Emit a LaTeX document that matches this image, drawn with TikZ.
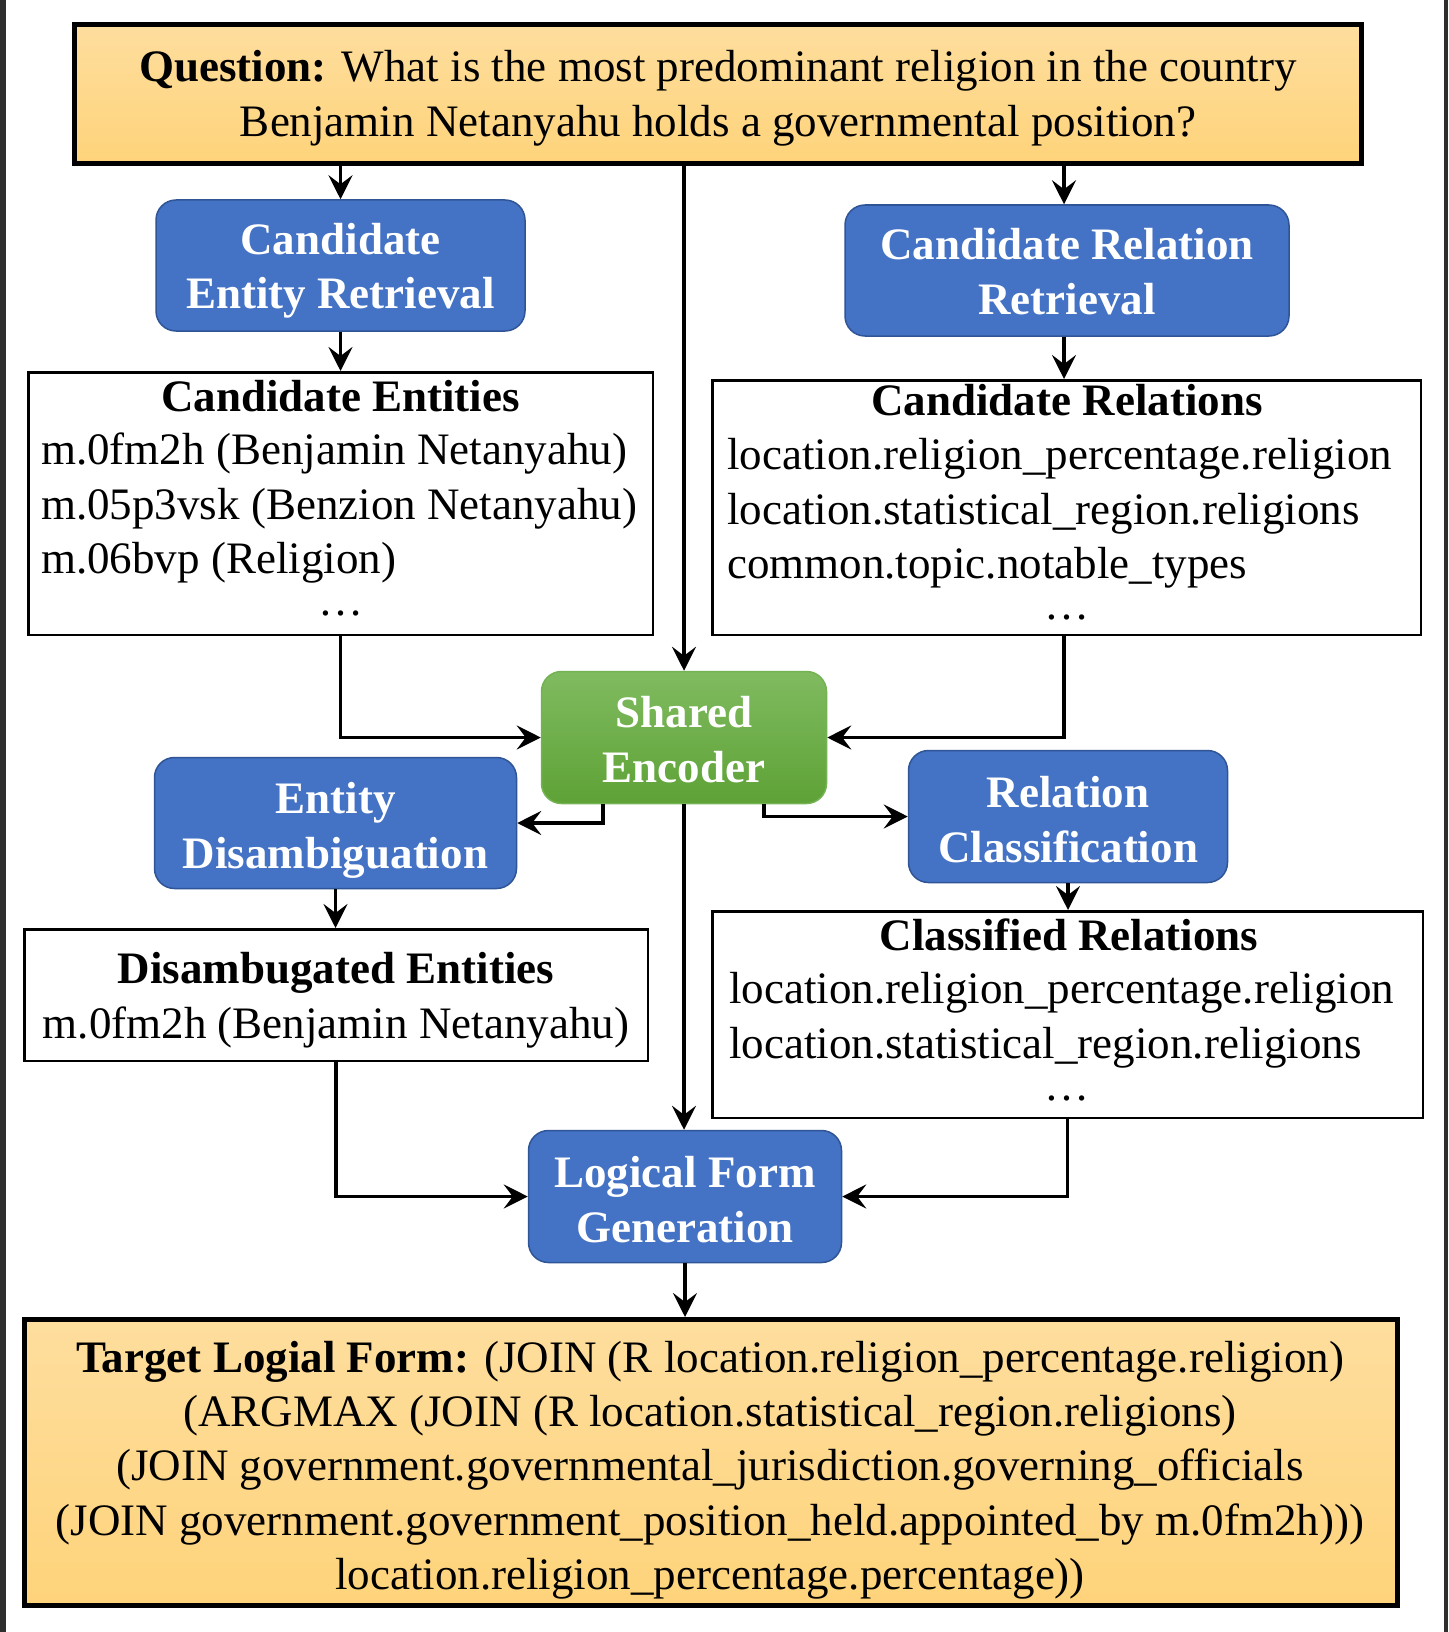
\documentclass[tikz,border=0pt]{standalone}
\usepackage{fontspec}
\setmainfont{Liberation Serif}
\usetikzlibrary{arrows.meta}

\definecolor{qtop}{RGB}{254,222,158}
\definecolor{qbot}{RGB}{254,211,122}
\definecolor{bluefill}{RGB}{68,114,196}
\definecolor{blueedge}{RGB}{47,85,151}
\definecolor{greentop}{RGB}{128,187,96}
\definecolor{greenbot}{RGB}{94,162,54}
\definecolor{greenedge}{RGB}{116,178,84}
\definecolor{sidebar}{RGB}{46,46,46}

\begin{document}
\begin{tikzpicture}[x=1pt,y=-1pt,
  txt/.style={font=\fontsize{45pt}{55pt}\selectfont, inner sep=0pt, anchor=base},
  hd/.style={txt, font=\fontsize{45pt}{55pt}\selectfont\bfseries},
  lbl/.style={hd, text=white},
  item/.style={txt, anchor=base west},
  stage/.style={draw=blueedge, line width=1.5pt, fill=bluefill, rounded corners=20pt, inner sep=0pt},
  enc/.style={draw=greenedge, line width=1.5pt, top color=greentop, bottom color=greenbot, rounded corners=20pt, inner sep=0pt},
  listbox/.style={draw=black, line width=2.5pt, fill=white, inner sep=0pt},
  hlbox/.style={draw=black, line width=5pt, top color=qtop, bottom color=qbot, inner sep=0pt},
  flow/.style={line width=3.2pt, -{Stealth[length=24pt,width=24pt,inset=9pt]}}
]
\useasboundingbox (0,0) rectangle (1448,1632);
\fill[white] (0,0) rectangle (1448,1632);
% dark page edges
\fill[sidebar] (0,0) rectangle (6,1632);
\fill[sidebar] (1444,0) rectangle (1448,1632);

% boxes
\node[hlbox, minimum width=1287pt, minimum height=139pt] (q) at (718,94) {};
\node[stage, minimum width=369pt, minimum height=131pt] (cer) at (340.5,265.5) {};
\node[stage, minimum width=444pt, minimum height=131pt] (crr) at (1067,270.5) {};
\node[listbox, minimum width=624.5pt, minimum height=262.5pt] (ce) at (340.5,503.5) {};
\node[listbox, minimum width=708.5pt, minimum height=254.5pt] (cr) at (1066.5,507.5) {};
\node[enc, minimum width=285pt, minimum height=132pt] (se) at (684,737.5) {};
\node[stage, minimum width=362pt, minimum height=131pt] (ed) at (335.5,823) {};
\node[stage, minimum width=319pt, minimum height=132pt] (rc) at (1068,816.5) {};
\node[listbox, minimum width=623.5pt, minimum height=131.5pt] (de) at (336,995) {};
\node[listbox, minimum width=710.5pt, minimum height=206.5pt] (clr) at (1067.5,1014.5) {};
\node[stage, minimum width=313pt, minimum height=132pt] (lfg) at (685,1196.5) {};
\node[hlbox, minimum width=1373pt, minimum height=286pt] (tgt) at (711,1462.5) {};

% connectors
\draw[flow] (q.south -| cer.north) -- (cer.north);
\draw[flow] (q.south -| crr.north) ++(-3,0) -- ([xshift=-3pt]crr.north);
\draw[flow] (q.south -| se.north) -- (se.north);
\draw[flow] (cer.south) -- (cer.south |- ce.north);
\draw[flow] ([xshift=-3pt]crr.south) -- ([xshift=-3pt]crr.south |- cr.north);
\draw[flow] (ce.south) |- (se.west);
\draw[flow] ([xshift=-3pt]cr.south -| crr.south) |- (se.east);
\draw[flow] ([xshift=-81pt]se.south) |- (ed.east);
\draw[flow] ([xshift=80pt]se.south) |- (rc.west);
\draw[flow] (se.south) -- (se.south |- lfg.north);
\draw[flow] (ed.south) -- (ed.south |- de.north);
\draw[flow] (rc.south) -- (rc.south |- clr.north);
\draw[flow] (de.south) |- (lfg.west);
\draw[flow] (clr.south) |- (lfg.east);
\draw[flow] (lfg.south) -- (lfg.south |- tgt.north);

% question
\node[txt] (q1) at (718,82) {\textbf{Question:} What is the most predominant religion in the country};
\node[txt] (q2) at (718,137) {Benjamin Netanyahu holds a governmental position?};

% processing stages
\node[lbl] (cer1) at (340.5,254) {Candidate};
\node[lbl] (cer2) at (340.5,308) {Entity Retrieval};
\node[lbl] (crr1) at (1067,259) {Candidate Relation};
\node[lbl] (crr2) at (1067,314) {Retrieval};
\node[lbl] (se1) at (684,727) {Shared};
\node[lbl] (se2) at (684,782) {Encoder};
\node[lbl] (ed1) at (335.5,813) {Entity};
\node[lbl] (ed2) at (335.5,868) {Disambiguation};
\node[lbl] (rc1) at (1068,807) {Relation};
\node[lbl] (rc2) at (1068,862) {Classification};
\node[lbl] (lfg1) at (685,1187) {Logical Form};
\node[lbl] (lfg2) at (685,1242) {Generation};

% candidate entities
\node[hd] (ceh) at (340.5,411) {Candidate Entities};
\node[item] (ce1) at (41,464) {m.0fm2h (Benjamin Netanyahu)};
\node[item] (ce2) at (41,519) {m.05p3vsk (Benzion Netanyahu)};
\node[item] (ce3) at (41,573) {m.06bvp (Religion)};
\node[txt] (ce4) at (340.5,615) {\ldots};

% candidate relations
\node[hd] (crh) at (1067,415) {Candidate Relations};
\node[item] (cr1) at (727,469) {location.religion\_percentage.religion};
\node[item] (cr2) at (727,524) {location.statistical\_region.religions};
\node[item] (cr3) at (727,578) {common.topic.notable\_types};
\node[txt] (cr4) at (1067,619) {\ldots};

% disambiguated entities
\node[hd] (deh) at (336,983) {Disambugated Entities};
\node[txt] (de1) at (336,1038) {m.0fm2h (Benjamin Netanyahu)};

% classified relations
\node[hd] (clrh) at (1069,950) {Classified Relations};
\node[item] (clr1) at (729,1003) {location.religion\_percentage.religion};
\node[item] (clr2) at (729,1058) {location.statistical\_region.religions};
\node[txt] (clr3) at (1067,1100) {\ldots};

% target logical form
\node[txt] (t1) at (710,1372) {\textbf{Target Logial Form:} (JOIN (R location.religion\_percentage.religion)};
\node[txt] (t2) at (710,1426) {(ARGMAX (JOIN (R location.statistical\_region.religions)};
\node[txt] (t3) at (710,1480) {(JOIN government.governmental\_jurisdiction.governing\_officials};
\node[txt] (t4) at (710,1535) {(JOIN government.government\_position\_held.appointed\_by m.0fm2h)))};
\node[txt] (t5) at (710,1589) {location.religion\_percentage.percentage))};
\end{tikzpicture}
\end{document}
